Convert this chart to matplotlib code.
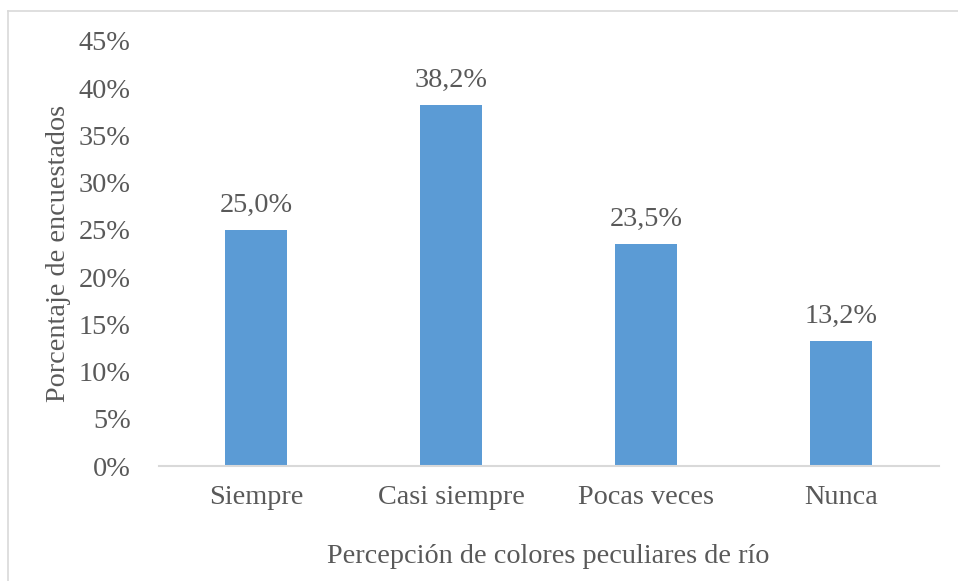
import matplotlib.pyplot as plt
from matplotlib.lines import Line2D

plt.rcParams['font.family'] = ['Liberation Serif', 'DejaVu Serif']

categorias = ['Siempre', 'Casi siempre', 'Pocas veces', 'Nunca']
porcentajes = [25.0, 38.2, 23.5, 13.2]
yticks = [0, 5, 10, 15, 20, 25, 30, 35, 40, 45]

gris = '#595959'
azul = '#5B9BD5'
fs = 20.3

fig = plt.figure(figsize=(9.58, 5.81), dpi=100)
ax = fig.add_axes([158.5 / 958, 115 / 581, 780 / 958, 425 / 581])

x = range(len(categorias))
barras = ax.bar(x, porcentajes, width=0.32, color=azul, zorder=2)

for b, v in zip(barras, porcentajes):
    ax.text(b.get_x() + b.get_width() / 2, v + 1.3, f'{v:.1f}%'.replace('.', ','),
            ha='center', va='bottom', fontsize=fs, color=gris)

ax.set_xlim(-0.5, len(categorias) - 0.5)
ax.set_ylim(0, 45)
ax.set_yticks(yticks)
ax.set_yticklabels([f'{t}%' for t in yticks])
ax.set_xticks(list(x))
ax.set_xticklabels(categorias)
ax.tick_params(axis='both', length=0, labelsize=fs, labelcolor=gris)
ax.tick_params(axis='y', pad=20)
ax.tick_params(axis='x', pad=14)

for s in ['top', 'right', 'left']:
    ax.spines[s].set_visible(False)
ax.spines['bottom'].set_color('#D9D9D9')
ax.spines['bottom'].set_linewidth(1.5)

ax.set_ylabel('Porcentaje de encuestados', fontsize=fs, color=gris)
ax.set_xlabel('Percepción de colores peculiares de río', fontsize=fs, color=gris, labelpad=24)
ax.yaxis.set_label_coords(-87 / 780, 0.5)

# marco del grafico (solo arriba e izquierda visibles)
fig.add_artist(Line2D([8 / 958, 8 / 958], [0, 1 - 11 / 581], transform=fig.transFigure,
                      color='#D9D9D9', lw=1.2))
fig.add_artist(Line2D([8 / 958, 1], [1 - 11 / 581, 1 - 11 / 581], transform=fig.transFigure,
                      color='#D9D9D9', lw=1.2))

fig.savefig('out.png', dpi=100)
